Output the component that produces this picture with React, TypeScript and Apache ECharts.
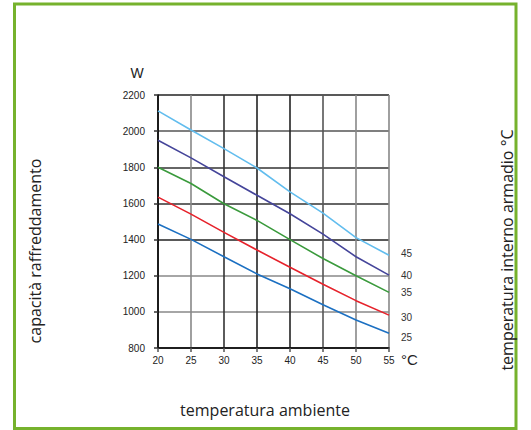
import React, { useEffect, useRef } from "react";
import * as echarts from "echarts";

const xValues = [20, 25, 30, 35, 40, 45, 50, 55];
const seriesNames = ["45", "40", "35", "30", "25"];
const s45 = [2112, 2006, 1903, 1796, 1664, 1546, 1411, 1313];
const s40 = [1950, 1852, 1748, 1645, 1543, 1430, 1305, 1203];
const s35 = [1800, 1710, 1598, 1506, 1400, 1295, 1200, 1108];
const s30 = [1635, 1541, 1440, 1342, 1247, 1153, 1062, 982];
const s25 = [1486, 1401, 1305, 1210, 1128, 1039, 955, 881];
const yTicks = { min: 800, max: 2200, interval: 200 };
const xTicks = { min: 20, max: 55, interval: 5 };

const colors = ["#62bdee", "#45459a", "#3a9a3c", "#e6222b", "#1c70c2"];
const labelOffsets = [[0, -2], [0, 0], [0, 0], [0, 2], [0, 4]];

export default function App() {
  const ref = useRef<HTMLDivElement>(null);
  useEffect(() => {
    document.body.style.margin = "0";
    if (!ref.current) return;
    const chart = echarts.init(ref.current, null, { renderer: "svg" });
    const all = [s45, s40, s35, s30, s25];
    const font = "'Open Sans', sans-serif";
    const tickFont = "'Liberation Sans', Arial, sans-serif";
    chart.setOption({
      animation: false,
      backgroundColor: "#ffffff",
      grid: { left: 158, right: 142, top: 95, bottom: 82, containLabel: false },
      xAxis: {
        type: "value",
        min: xTicks.min,
        max: xTicks.max,
        interval: xTicks.interval,
        axisLine: { onZero: false, lineStyle: { color: "#111", width: 1.5 } },
        axisTick: { show: true, length: 4, lineStyle: { color: "#555", width: 1.5 } },
        axisLabel: { margin: 7, fontSize: 10, color: "#222", fontFamily: tickFont, formatter: (v: number) => String(v) },
        splitLine: {
          show: true,
          lineStyle: { color: ["#111", "#888", "#333", "#222", "#222", "#555", "#888", "#888"], width: 1.6 },
        },
      },
      yAxis: {
        type: "value",
        min: yTicks.min,
        max: yTicks.max,
        interval: yTicks.interval,
        name: "W",
        nameLocation: "end",
        nameGap: 15,
        nameTextStyle: { fontSize: 14, color: "#222", fontFamily: tickFont, padding: [0, 42, 0, 0] },
        axisLine: { show: true, lineStyle: { color: "#111", width: 1.5 } },
        axisTick: { show: true, length: 4, lineStyle: { color: "#333", width: 1.5 } },
        axisLabel: { margin: 13, fontSize: 10, color: "#222", fontFamily: tickFont, formatter: (v: number) => String(v) },
        splitLine: {
          show: true,
          lineStyle: { color: ["#111", "#888", "#888", "#222", "#333", "#333", "#555", "#222"], width: 1.6 },
        },
      },
      series: all.map((vals, i) => ({
        type: "line",
        name: seriesNames[i],
        data: vals.map((v, j) => [xValues[j], v]),
        showSymbol: false,
        symbol: "none",
        smooth: false,
        lineStyle: { color: colors[i], width: 1.6 },
        itemStyle: { color: colors[i] },
        endLabel: {
          show: true,
          formatter: "{a}",
          distance: 12,
          offset: labelOffsets[i],
          fontSize: 10,
          color: "#333",
          fontFamily: tickFont,
        },
        z: 3,
      })),
      graphic: [
        {
          type: "rect",
          shape: { x: 14.5, y: 4, width: 501.5, height: 424.5 },
          style: { fill: "none", stroke: "#76b22d", lineWidth: 3 },
          silent: true,
        },
        {
          type: "text",
          x: 401,
          y: 359,
          style: { text: "°C", fontSize: 15, fill: "#222", fontFamily: tickFont, align: "left", verticalAlign: "middle" },
        },
        {
          type: "text",
          x: 35,
          y: 251,
          rotation: Math.PI / 2,
          style: { text: "capacità raffreddamento", fontSize: 16, fill: "#222", fontFamily: font, align: "center", verticalAlign: "middle" },
        },
        {
          type: "text",
          x: 265,
          y: 410,
          style: { text: "temperatura ambiente", fontSize: 16, fill: "#222", fontFamily: font, align: "center", verticalAlign: "middle" },
        },
        {
          type: "text",
          x: 507,
          y: 250,
          rotation: Math.PI / 2,
          style: { text: "temperatura interno armadio °C", fontSize: 16, fill: "#222", fontFamily: font, align: "center", verticalAlign: "middle" },
        },
      ],
    });
    return () => chart.dispose();
  }, []);
  return <div ref={ref} style={{ width: 531, height: 430 }} />;
}
